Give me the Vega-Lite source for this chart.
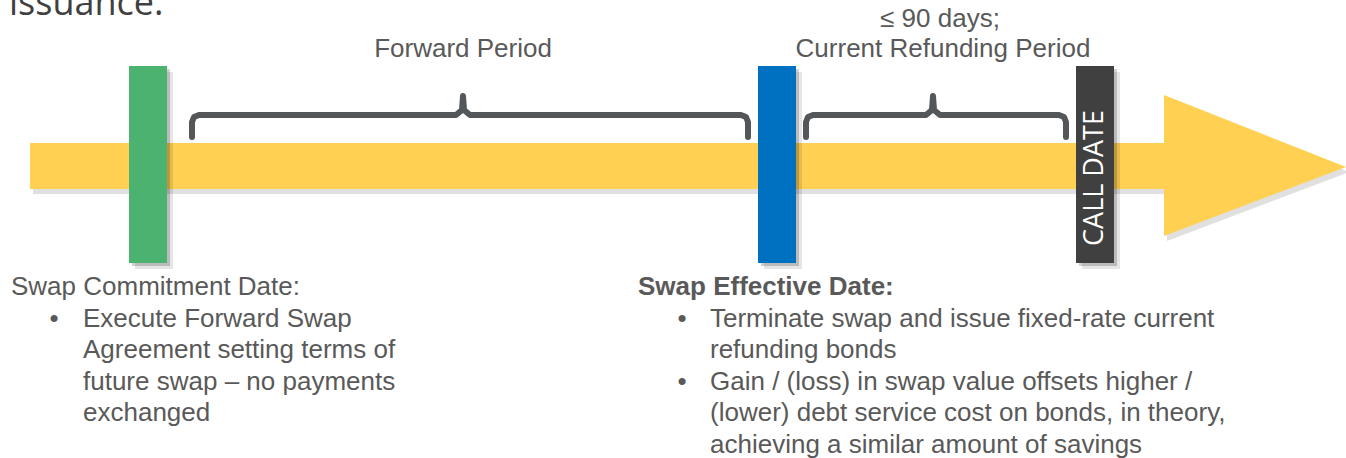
{
  "$schema": "https://vega.github.io/schema/vega-lite/v6.json",
  "width": 1346,
  "height": 458,
  "autosize": "none",
  "padding": 0,
  "background": "white",
  "config": {"view": {"stroke": null}},
  "datasets": {
    "shaft": [{"kind": "timeline", "x1": 30, "x2": 1165, "y1": 143, "y2": 189}],
    "head": [
      {"kind": "timeline", "x": 1164, "ylo": 95, "yhi": 236},
      {"kind": "timeline", "x": 1346, "ylo": 167, "yhi": 167}
    ],
    "markers": [
      {"kind": "commitment", "x1": 129, "x2": 167, "y1": 66, "y2": 263},
      {"kind": "effective", "x1": 758, "x2": 796, "y1": 66, "y2": 263},
      {"kind": "call", "x1": 1076, "x2": 1114, "y1": 66, "y2": 263}
    ],
    "braces": [
      {"brace": "forward", "o": 1, "x": 192, "y": 137},
      {"brace": "forward", "o": 2, "x": 192, "y": 122},
      {"brace": "forward", "o": 3, "x": 194, "y": 117},
      {"brace": "forward", "o": 4, "x": 199, "y": 115},
      {"brace": "forward", "o": 5, "x": 456, "y": 115},
      {"brace": "forward", "o": 6, "x": 462, "y": 110},
      {"brace": "forward", "o": 7, "x": 463, "y": 96},
      {"brace": "forward", "o": 8, "x": 464, "y": 110},
      {"brace": "forward", "o": 9, "x": 470, "y": 115},
      {"brace": "forward", "o": 10, "x": 741, "y": 115},
      {"brace": "forward", "o": 11, "x": 746, "y": 117},
      {"brace": "forward", "o": 12, "x": 748, "y": 122},
      {"brace": "forward", "o": 13, "x": 748, "y": 137},
      {"brace": "refund", "o": 1, "x": 806, "y": 137},
      {"brace": "refund", "o": 2, "x": 806, "y": 122},
      {"brace": "refund", "o": 3, "x": 808, "y": 117},
      {"brace": "refund", "o": 4, "x": 813, "y": 115},
      {"brace": "refund", "o": 5, "x": 926, "y": 115},
      {"brace": "refund", "o": 6, "x": 932, "y": 110},
      {"brace": "refund", "o": 7, "x": 933, "y": 96},
      {"brace": "refund", "o": 8, "x": 934, "y": 110},
      {"brace": "refund", "o": 9, "x": 940, "y": 115},
      {"brace": "refund", "o": 10, "x": 1059, "y": 115},
      {"brace": "refund", "o": 11, "x": 1064, "y": 117},
      {"brace": "refund", "o": 12, "x": 1066, "y": 122},
      {"brace": "refund", "o": 13, "x": 1066, "y": 137}
    ],
    "periodLabels": [
      {"text": "Forward Period", "x": 463, "y": 57},
      {"text": "≤ 90 days;", "x": 940, "y": 27},
      {"text": "Current Refunding Period", "x": 943, "y": 57}
    ],
    "headingPlain": [{"text": "Swap Commitment Date:", "x": 11, "y": 295}],
    "headingBold": [{"text": "Swap Effective Date:", "x": 638, "y": 295}],
    "bodyLines": [
      {"text": "Execute Forward Swap", "x": 83, "y": 327},
      {"text": "Agreement setting terms of", "x": 83, "y": 358},
      {"text": "future swap – no payments", "x": 83, "y": 390},
      {"text": "exchanged", "x": 83, "y": 421},
      {"text": "Terminate swap and issue fixed-rate current", "x": 710, "y": 327},
      {"text": "refunding bonds", "x": 710, "y": 358},
      {"text": "Gain / (loss) in swap value offsets higher /", "x": 710, "y": 390},
      {"text": "(lower) debt service cost on bonds, in theory,", "x": 710, "y": 421},
      {"text": "achieving a similar amount of savings", "x": 710, "y": 453}
    ],
    "bullets": [
      {"text": "•", "x": 54, "y": 327},
      {"text": "•", "x": 682, "y": 327},
      {"text": "•", "x": 682, "y": 390}
    ],
    "title": [{"text": "issuance.", "x": 9, "y": 15}],
    "callLabel": [{"text": "CALL DATE", "x": 1095, "y": 178}]
  },
  "layer": [
    {
      "data": {"name": "shaft"},
      "mark": {"type": "rect", "color": "#000000", "opacity": 0.12, "xOffset": 3, "x2Offset": 3, "yOffset": 5, "y2Offset": 5},
      "encoding": {
        "x": {"field": "x1", "type": "quantitative", "scale": {"domain": [0, 1346], "nice": false, "zero": false}, "axis": null},
        "x2": {"field": "x2"},
        "y": {"field": "y1", "type": "quantitative", "scale": {"domain": [0, 458], "reverse": true, "nice": false, "zero": false}, "axis": null},
        "y2": {"field": "y2"}
      }
    },
    {
      "data": {"name": "head"},
      "mark": {"type": "area", "color": "#000000", "opacity": 0.12, "xOffset": 3, "yOffset": 5, "y2Offset": 5},
      "encoding": {
        "x": {"field": "x", "type": "quantitative", "scale": {"domain": [0, 1346], "nice": false, "zero": false}, "axis": null},
        "y": {"field": "ylo", "type": "quantitative", "scale": {"domain": [0, 458], "reverse": true, "nice": false, "zero": false}, "axis": null},
        "y2": {"field": "yhi"}
      }
    },
    {
      "data": {"name": "shaft"},
      "mark": {"type": "rect"},
      "encoding": {
        "x": {"field": "x1", "type": "quantitative", "scale": {"domain": [0, 1346], "nice": false, "zero": false}, "axis": null},
        "x2": {"field": "x2"},
        "y": {"field": "y1", "type": "quantitative", "scale": {"domain": [0, 458], "reverse": true, "nice": false, "zero": false}, "axis": null},
        "y2": {"field": "y2"},
        "color": {"field": "kind", "type": "nominal", "legend": null, "scale": {"domain": ["timeline", "commitment", "effective", "call"], "range": ["#FFD052", "#4BB36F", "#0070C0", "#404040"]}}
      }
    },
    {
      "data": {"name": "head"},
      "mark": {"type": "area"},
      "encoding": {
        "x": {"field": "x", "type": "quantitative", "scale": {"domain": [0, 1346], "nice": false, "zero": false}, "axis": null},
        "y": {"field": "ylo", "type": "quantitative", "scale": {"domain": [0, 458], "reverse": true, "nice": false, "zero": false}, "axis": null},
        "y2": {"field": "yhi"},
        "color": {"field": "kind", "type": "nominal", "legend": null}
      }
    },
    {
      "data": {"name": "markers"},
      "mark": {"type": "rect", "color": "#000000", "opacity": 0.1, "xOffset": 6, "x2Offset": 6, "yOffset": 6, "y2Offset": 6},
      "encoding": {
        "x": {"field": "x1", "type": "quantitative", "scale": {"domain": [0, 1346], "nice": false, "zero": false}, "axis": null},
        "x2": {"field": "x2"},
        "y": {"field": "y1", "type": "quantitative", "scale": {"domain": [0, 458], "reverse": true, "nice": false, "zero": false}, "axis": null},
        "y2": {"field": "y2"}
      }
    },
    {
      "data": {"name": "markers"},
      "mark": {"type": "rect", "color": "#000000", "opacity": 0.18, "xOffset": 3, "x2Offset": 3, "yOffset": 3, "y2Offset": 3},
      "encoding": {
        "x": {"field": "x1", "type": "quantitative", "scale": {"domain": [0, 1346], "nice": false, "zero": false}, "axis": null},
        "x2": {"field": "x2"},
        "y": {"field": "y1", "type": "quantitative", "scale": {"domain": [0, 458], "reverse": true, "nice": false, "zero": false}, "axis": null},
        "y2": {"field": "y2"}
      }
    },
    {
      "data": {"name": "markers"},
      "mark": {"type": "rect"},
      "encoding": {
        "x": {"field": "x1", "type": "quantitative", "scale": {"domain": [0, 1346], "nice": false, "zero": false}, "axis": null},
        "x2": {"field": "x2"},
        "y": {"field": "y1", "type": "quantitative", "scale": {"domain": [0, 458], "reverse": true, "nice": false, "zero": false}, "axis": null},
        "y2": {"field": "y2"},
        "color": {"field": "kind", "type": "nominal", "legend": null}
      }
    },
    {
      "data": {"name": "callLabel"},
      "mark": {"type": "text", "angle": 270, "align": "center", "baseline": "middle", "font": "Open Sans", "fontSize": 27, "color": "#FFFFFF"},
      "encoding": {
        "x": {"field": "x", "type": "quantitative", "scale": {"domain": [0, 1346], "nice": false, "zero": false}, "axis": null},
        "y": {"field": "y", "type": "quantitative", "scale": {"domain": [0, 458], "reverse": true, "nice": false, "zero": false}, "axis": null},
        "text": {"field": "text"}
      }
    },
    {
      "data": {"name": "braces"},
      "mark": {"type": "line", "color": "#53575A", "strokeWidth": 6, "strokeCap": "round", "strokeJoin": "round"},
      "encoding": {
        "x": {"field": "x", "type": "quantitative", "scale": {"domain": [0, 1346], "nice": false, "zero": false}, "axis": null},
        "y": {"field": "y", "type": "quantitative", "scale": {"domain": [0, 458], "reverse": true, "nice": false, "zero": false}, "axis": null},
        "detail": {"field": "brace", "type": "nominal"},
        "order": {"field": "o", "type": "quantitative"}
      }
    },
    {
      "data": {"name": "periodLabels"},
      "mark": {"type": "text", "align": "center", "baseline": "alphabetic", "font": "Liberation Sans", "fontSize": 26, "color": "#595959"},
      "encoding": {
        "x": {"field": "x", "type": "quantitative", "scale": {"domain": [0, 1346], "nice": false, "zero": false}, "axis": null},
        "y": {"field": "y", "type": "quantitative", "scale": {"domain": [0, 458], "reverse": true, "nice": false, "zero": false}, "axis": null},
        "text": {"field": "text"}
      }
    },
    {
      "data": {"name": "headingPlain"},
      "mark": {"type": "text", "align": "left", "baseline": "alphabetic", "font": "Liberation Sans", "fontSize": 26, "color": "#595959"},
      "encoding": {
        "x": {"field": "x", "type": "quantitative", "scale": {"domain": [0, 1346], "nice": false, "zero": false}, "axis": null},
        "y": {"field": "y", "type": "quantitative", "scale": {"domain": [0, 458], "reverse": true, "nice": false, "zero": false}, "axis": null},
        "text": {"field": "text"}
      }
    },
    {
      "data": {"name": "headingBold"},
      "mark": {"type": "text", "align": "left", "baseline": "alphabetic", "font": "Liberation Sans", "fontSize": 26, "fontWeight": "bold", "color": "#595959"},
      "encoding": {
        "x": {"field": "x", "type": "quantitative", "scale": {"domain": [0, 1346], "nice": false, "zero": false}, "axis": null},
        "y": {"field": "y", "type": "quantitative", "scale": {"domain": [0, 458], "reverse": true, "nice": false, "zero": false}, "axis": null},
        "text": {"field": "text"}
      }
    },
    {
      "data": {"name": "bodyLines"},
      "mark": {"type": "text", "align": "left", "baseline": "alphabetic", "font": "Liberation Sans", "fontSize": 26, "color": "#595959"},
      "encoding": {
        "x": {"field": "x", "type": "quantitative", "scale": {"domain": [0, 1346], "nice": false, "zero": false}, "axis": null},
        "y": {"field": "y", "type": "quantitative", "scale": {"domain": [0, 458], "reverse": true, "nice": false, "zero": false}, "axis": null},
        "text": {"field": "text"}
      }
    },
    {
      "data": {"name": "bullets"},
      "mark": {"type": "text", "align": "center", "baseline": "alphabetic", "font": "Liberation Sans", "fontSize": 26, "color": "#595959"},
      "encoding": {
        "x": {"field": "x", "type": "quantitative", "scale": {"domain": [0, 1346], "nice": false, "zero": false}, "axis": null},
        "y": {"field": "y", "type": "quantitative", "scale": {"domain": [0, 458], "reverse": true, "nice": false, "zero": false}, "axis": null},
        "text": {"field": "text"}
      }
    },
    {
      "data": {"name": "title"},
      "mark": {"type": "text", "align": "left", "baseline": "alphabetic", "font": "Open Sans", "fontSize": 36, "color": "#404040"},
      "encoding": {
        "x": {"field": "x", "type": "quantitative", "scale": {"domain": [0, 1346], "nice": false, "zero": false}, "axis": null},
        "y": {"field": "y", "type": "quantitative", "scale": {"domain": [0, 458], "reverse": true, "nice": false, "zero": false}, "axis": null},
        "text": {"field": "text"}
      }
    }
  ]
}
